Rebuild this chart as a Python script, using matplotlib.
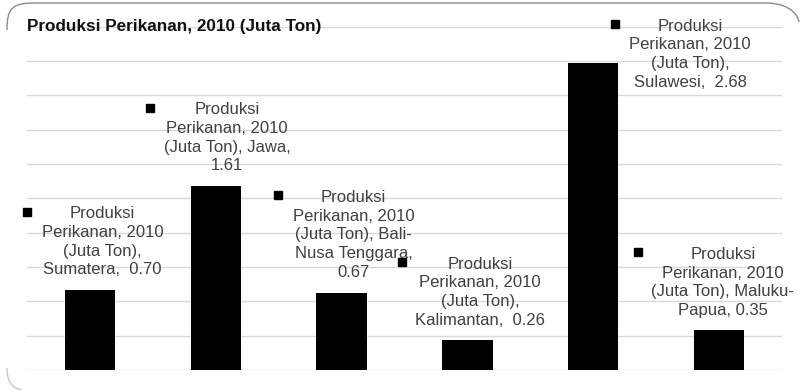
import matplotlib
matplotlib.use("Agg")
import matplotlib.pyplot as plt
from matplotlib.path import Path
from matplotlib.patches import PathPatch

plt.rcParams['font.family'] = ['Liberation Sans', 'DejaVu Sans']

categories = ["Sumatera", "Jawa", "Bali-Nusa Tenggara", "Kalimantan", "Sulawesi", "Maluku-Papua"]
values = [0.70, 1.61, 0.67, 0.26, 2.68, 0.35]
value_labels = ["0.70", "1.61", "0.67", "0.26", "2.68", "0.35"]
label_texts = [
    "Produksi\nPerikanan, 2010\n(Juta Ton),\nSumatera,  0.70",
    "Produksi\nPerikanan, 2010\n(Juta Ton), Jawa,\n1.61",
    "Produksi\nPerikanan, 2010\n(Juta Ton), Bali-\nNusa Tenggara,\n0.67",
    "Produksi\nPerikanan, 2010\n(Juta Ton),\nKalimantan,  0.26",
    "Produksi\nPerikanan, 2010\n(Juta Ton),\nSulawesi,  2.68",
    "Produksi\nPerikanan, 2010\n(Juta Ton), Maluku-\nPapua, 0.35",
]
title = "Produksi Perikanan, 2010 (Juta Ton)"

# label placement (data coords): text centre and legend-key square
text_pos = [(0.10, 1.12), (1.09, 2.03), (2.095, 1.18), (3.10, 0.68), (4.77, 2.76), (5.03, 0.765)]
key_pos = [(-0.50, 1.38), (0.477, 2.29), (1.495, 1.53), (2.48, 0.94), (4.17, 3.02), (4.356, 1.03)]

fig = plt.figure(figsize=(8, 3.9), dpi=100)
ax = fig.add_axes([27/800, 1-370/390, 755/800, (370-26.7)/390])

x = list(range(len(categories)))
ax.bar(x, values, width=0.4, color="black", zorder=3)
ax.set_xlim(-0.5, 5.5)
ax.set_ylim(0, 3.0)
ax.set_yticks([i*0.3 for i in range(11)])
ax.set_xticks([])
ax.tick_params(left=False, labelleft=False)
ax.grid(axis='y', color="#d9d9d9", linewidth=1.0, zorder=0)
for s in ax.spines.values():
    s.set_visible(False)

for (tx, ty), (kx, ky), t in zip(text_pos, key_pos, label_texts):
    ax.text(tx, ty, t, ha='center', va='center', fontsize=12, color="#404040",
            linespacing=1.3, zorder=4, clip_on=False)
    ax.plot([kx], [ky], marker='s', markersize=5.8, color='black', linestyle='none',
            zorder=5, clip_on=False)

fig.text(27/800, 1-27/390, title, ha='left', va='center', fontsize=12.3, fontweight='bold',
         color="#111111")

# rounded frame (partially visible in reference)
W, H = 800, 390
def P(px, py):
    return (px/W, 1-py/H)
verts = [P(7, 30), P(7, 8), P(12, 3), P(35, 3), P(765, 3), P(795, 3), P(799, 20), P(799, 22)]
codes = [Path.MOVETO, Path.CURVE4, Path.CURVE4, Path.CURVE4, Path.LINETO,
         Path.CURVE4, Path.CURVE4, Path.CURVE4]
fig.patches.append(PathPatch(Path(verts, codes), transform=fig.transFigure,
                             facecolor='none', edgecolor='#8c8c8c', linewidth=1.0))
verts2 = [P(7, 368), P(7, 382), P(12, 388), P(22, 390)]
codes2 = [Path.MOVETO, Path.CURVE4, Path.CURVE4, Path.CURVE4]
fig.patches.append(PathPatch(Path(verts2, codes2), transform=fig.transFigure,
                             facecolor='none', edgecolor='#c8c8c8', linewidth=1.0))

fig.savefig("out.png", dpi=100)
